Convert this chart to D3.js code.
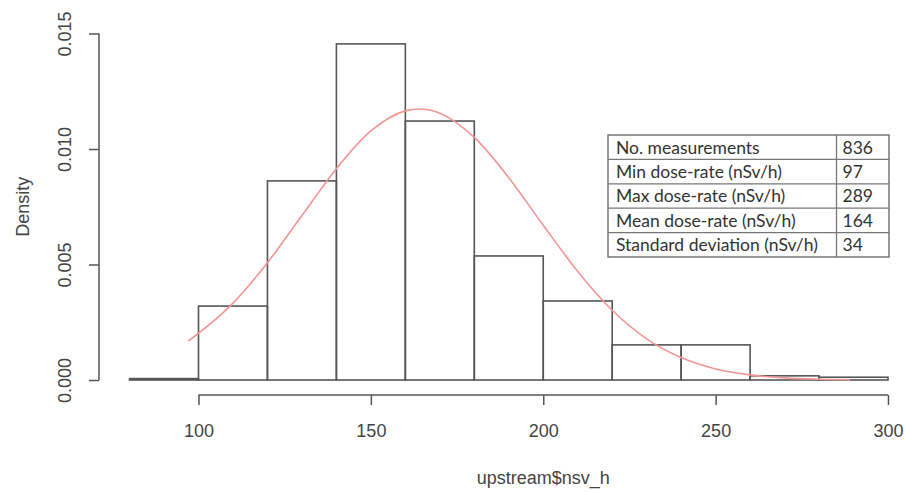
<!DOCTYPE html>
<html>
<head>
<meta charset="utf-8">
<script src="https://cdn.jsdelivr.net/npm/d3@7"></script>
<style>
  html, body { margin: 0; padding: 0; background: #fff; }
  svg { display: block; }
</style>
</head>
<body>
<svg id="chart" width="906" height="492"></svg>
<script>
// Histogram bins (nSv/h) and their densities
const binStarts = [80, 100, 120, 140, 160, 180, 200, 220, 240, 260, 280];
const binWidth = 20;
const binDensity = [0.00006, 0.00320, 0.00862, 0.01455, 0.01121, 0.00537, 0.00342, 0.00152, 0.00152, 0.00018, 0.00012];

// Fitted density curve, sampled along the dose-rate range
const curveX = [97, 110, 120, 130, 140, 150, 160, 164, 170, 180, 190, 200, 210, 220, 230, 240, 250, 260, 270, 280, 289];
const curveY = [0.00168, 0.00333, 0.00508, 0.00712, 0.00915, 0.01078, 0.01165, 0.01173, 0.01155, 0.01050, 0.00876, 0.00670, 0.00470, 0.00302, 0.00178, 0.00097, 0.00048, 0.00022, 0.00009, 0.00003, 0.00001];

// Axis ticks
const xTicks = [100, 150, 200, 250, 300];
const yTicks = [0, 0.005, 0.010, 0.015];

// Summary table
const statLabels = ["No. measurements", "Min dose-rate (nSv/h)", "Max dose-rate (nSv/h)", "Mean dose-rate (nSv/h)", "Standard deviation (nSv/h)"];
const statValues = ["836", "97", "289", "164", "34"];

const svg = d3.select("#chart");
const ink = "#555";
const textInk = "#444";
const axisFont = "Liberation Sans, Arial, sans-serif";

const x = d3.scaleLinear().domain([100, 300]).range([198.5, 888]);
const y = d3.scaleLinear().domain([0, 0.015]).range([380, 33.5]);

// Bars
const bars = binStarts.map((s, i) => ({ x0: s, x1: s + binWidth, d: binDensity[i] }));
svg.append("g").selectAll("rect").data(bars).join("rect")
  .attr("x", d => x(d.x0))
  .attr("y", d => y(d.d))
  .attr("width", d => x(d.x1) - x(d.x0))
  .attr("height", d => y(0) - y(d.d))
  .attr("fill", "none")
  .attr("stroke", ink)
  .attr("stroke-width", 1.6);

// Fitted curve
const pts = curveX.map((v, i) => [v, curveY[i]]);
svg.append("path")
  .datum(pts)
  .attr("fill", "none")
  .attr("stroke", "#f39595")
  .attr("stroke-width", 1.6)
  .attr("d", d3.line().x(d => x(d[0])).y(d => y(d[1])).curve(d3.curveMonotoneX));

// X axis
const xAxis = svg.append("g")
  .attr("transform", "translate(0,395)")
  .call(d3.axisBottom(x).tickValues(xTicks).tickSize(10).tickSizeOuter(0).tickFormat(d3.format("d")));
xAxis.select(".domain").attr("d", `M${x(100)},0H${x(300)}`);
xAxis.selectAll("line, path").attr("stroke", ink).attr("stroke-width", 1.5);
xAxis.selectAll("text")
  .attr("fill", textInk)
  .attr("font-family", axisFont)
  .attr("font-size", 18)
  .attr("dy", null)
  .attr("y", 42);

// Y axis
const yAxis = svg.append("g")
  .attr("transform", "translate(99,0)")
  .call(d3.axisLeft(y).tickValues(yTicks).tickSize(10).tickSizeOuter(0).tickFormat(d3.format(".3f")));
yAxis.select(".domain").attr("d", `M0,${y(0)}V${y(0.015)}`);
yAxis.selectAll("line, path").attr("stroke", ink).attr("stroke-width", 1.5);
yAxis.selectAll("text")
  .attr("fill", textInk)
  .attr("font-family", axisFont)
  .attr("font-size", 18)
  .attr("x", null).attr("dy", null)
  .attr("text-anchor", "middle")
  .attr("transform", "translate(-28,0) rotate(-90)")
  .attr("y", 0);

// Axis titles
svg.append("text")
  .attr("x", x(200)).attr("y", 484)
  .attr("text-anchor", "middle")
  .attr("fill", textInk)
  .attr("font-family", axisFont)
  .attr("font-size", 18)
  .text("upstream$nsv_h");

svg.append("text")
  .attr("transform", `translate(29,${y(0.0075)}) rotate(-90)`)
  .attr("text-anchor", "middle")
  .attr("fill", textInk)
  .attr("font-family", axisFont)
  .attr("font-size", 18)
  .text("Density");

// Summary table
const tbl = { left: 608, mid: 836.5, right: 889, top: 135, rowH: 24.4 };
const tg = svg.append("g");
tg.append("rect")
  .attr("x", tbl.left).attr("y", tbl.top)
  .attr("width", tbl.right - tbl.left).attr("height", tbl.rowH * statLabels.length)
  .attr("fill", "#fff").attr("stroke", "#777").attr("stroke-width", 1.5);
tg.append("line")
  .attr("x1", tbl.mid).attr("x2", tbl.mid)
  .attr("y1", tbl.top).attr("y2", tbl.top + tbl.rowH * statLabels.length)
  .attr("stroke", "#777").attr("stroke-width", 1.3);
tg.selectAll("line.row").data(d3.range(1, statLabels.length)).join("line")
  .attr("class", "row")
  .attr("x1", tbl.left).attr("x2", tbl.right)
  .attr("y1", i => tbl.top + i * tbl.rowH).attr("y2", i => tbl.top + i * tbl.rowH)
  .attr("stroke", "#777").attr("stroke-width", 1.3);
tg.selectAll("text.lab").data(statLabels).join("text")
  .attr("class", "lab")
  .attr("x", tbl.left + 8)
  .attr("y", (d, i) => tbl.top + i * tbl.rowH + 18.5)
  .attr("fill", "#333")
  .attr("font-family", "Lato, sans-serif")
  .attr("font-size", 17.5)
  .text(d => d);
tg.selectAll("text.val").data(statValues).join("text")
  .attr("class", "val")
  .attr("x", tbl.mid + 6)
  .attr("y", (d, i) => tbl.top + i * tbl.rowH + 18.5)
  .attr("fill", "#333")
  .attr("font-family", "Lato, sans-serif")
  .attr("font-size", 17.5)
  .text(d => d);
</script>
</body>
</html>
